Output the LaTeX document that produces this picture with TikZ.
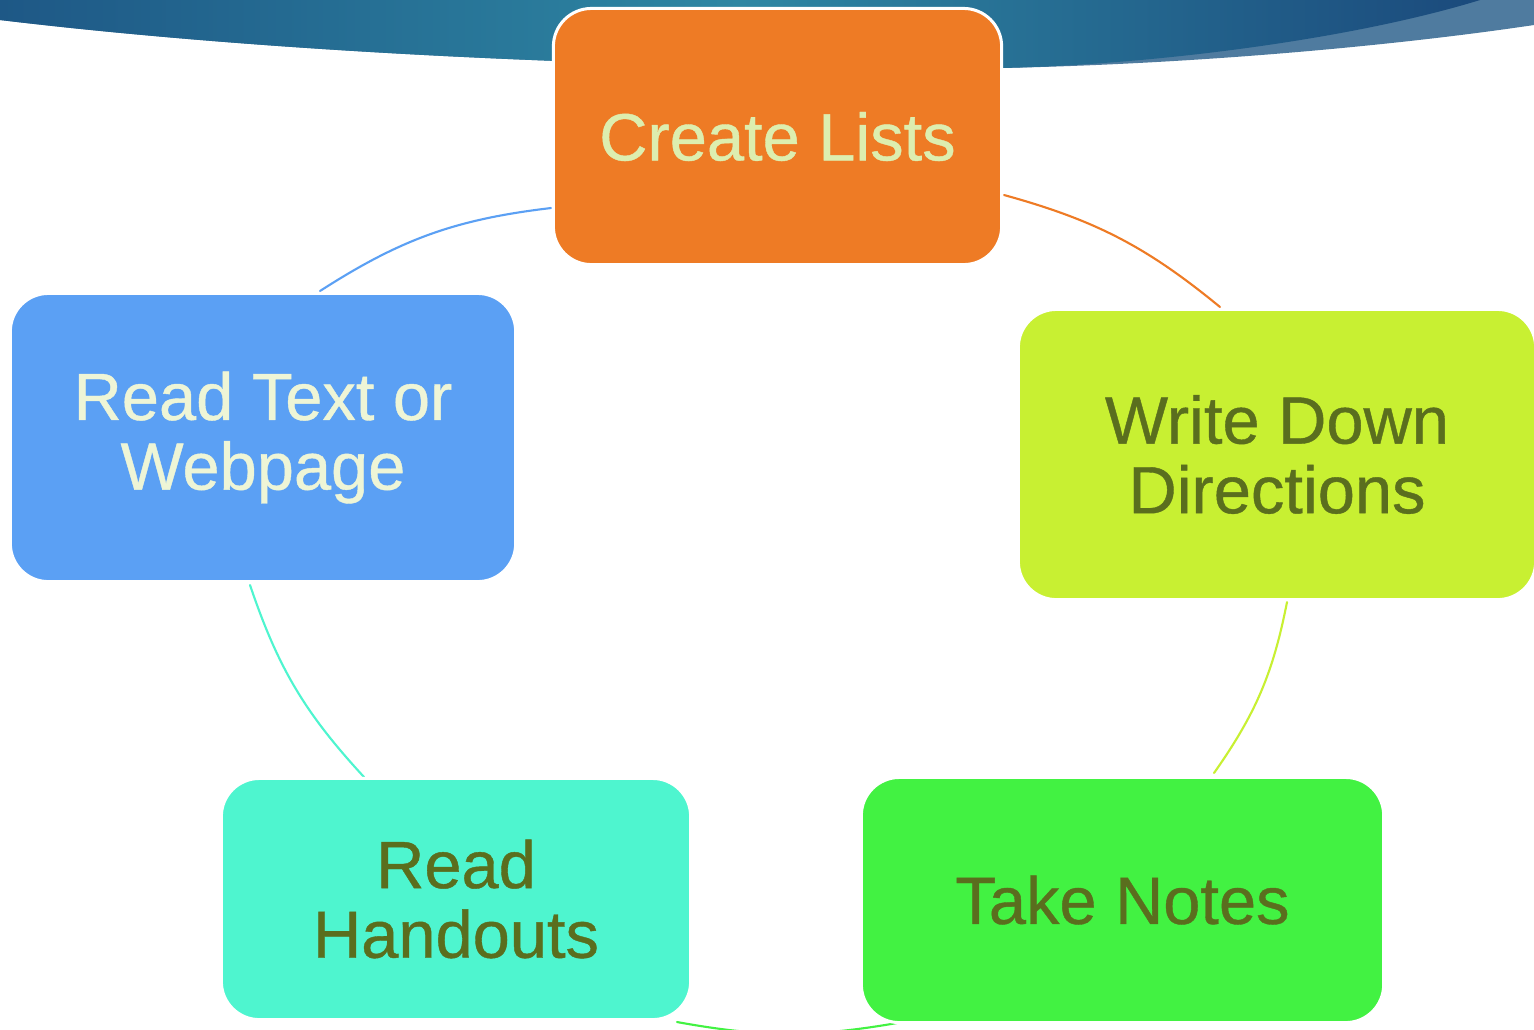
\documentclass[tikz,border=0pt]{standalone}
\usepackage{fontspec}
\setmainfont{Liberation Sans}[FakeBold=0.6]
\definecolor{banL}{HTML}{1E5886}
\definecolor{banM}{HTML}{2E87A3}
\definecolor{banR}{HTML}{1B4A7C}
\definecolor{banLight}{HTML}{4F7B9F}
\definecolor{cOrange}{HTML}{EE7B25}
\definecolor{cLime}{HTML}{C8F032}
\definecolor{cGreen}{HTML}{42F242}
\definecolor{cTeal}{HTML}{4EF5CF}
\definecolor{cBlue}{HTML}{5BA0F4}
\definecolor{tLight}{HTML}{DDEEAF}
\definecolor{tPale}{HTML}{EEF5D6}
\definecolor{tOlive}{HTML}{5A6E1E}
\tikzset{
  box/.style={rectangle, rounded corners=0.38cm, draw=white, line width=0.03cm,
    inner sep=0pt, align=center, font=\fontsize{19}{19.8}\selectfont},
  arc/.style={line width=0.6pt, line cap=round},
}
\begin{document}
\begin{tikzpicture}[x=0.01cm, y=-0.01cm]
\useasboundingbox (0,0) rectangle (1534,1029);
\clip (0,0) rectangle (1534,1029);
\fill[white] (0,0) rectangle (1534,1029);
% banner
\fill[banLight] (0,0) -- (0,20) .. controls (250,50) and (600,70) .. (1000,68)
  .. controls (1200,64) and (1400,45) .. (1534,25) -- (1534,0) -- cycle;
\shade[left color=banL, right color=banR, middle color=banM]
  (0,0) -- (0,20) .. controls (250,50) and (600,70) .. (1000,68)
  .. controls (1150,65) and (1350,40) .. (1480,0) -- cycle;
% arc end points
\coordinate (a1s) at (1004,195); \coordinate (a1e) at (1220,307);
\coordinate (a2s) at (1287,602); \coordinate (a2e) at (1214,773);
\coordinate (a3s) at (897,1023); \coordinate (a3e) at (677,1022);
\coordinate (a4s) at (364,777);  \coordinate (a4e) at (250,585);
\coordinate (a5s) at (320,291);  \coordinate (a5e) at (551,208);
\draw[arc, cOrange] (a1s) to[bend left=12] (a1e);
\draw[arc, cLime]   (a2s) to[bend left=12] (a2e);
\draw[arc, cGreen]  (a3s) to[bend left=10] (a3e);
\draw[arc, cTeal]   (a4s) to[bend left=12] (a4e);
\draw[arc, cBlue]   (a5s) to[bend left=13] (a5e);
% boxes
\node[box, fill=cOrange, text=tLight, minimum width=4.48cm, minimum height=2.56cm] (cl) at (777.5,136.5) {Create Lists};
\node[box, fill=cLime, text=tOlive, minimum width=5.17cm, minimum height=2.90cm] (wd) at (1277,454.5) {Write Down\\Directions};
\node[box, fill=cGreen, text=tOlive, minimum width=5.22cm, minimum height=2.45cm] (tn) at (1122.5,900) {Take Notes};
\node[box, fill=cTeal, text=tOlive, minimum width=4.69cm, minimum height=2.41cm] (rh) at (456,899) {Read\\Handouts};
\node[box, fill=cBlue, text=tPale, minimum width=5.05cm, minimum height=2.88cm] (rt) at (263,437.5) {Read Text or\\Webpage};
\end{tikzpicture}
\end{document}
